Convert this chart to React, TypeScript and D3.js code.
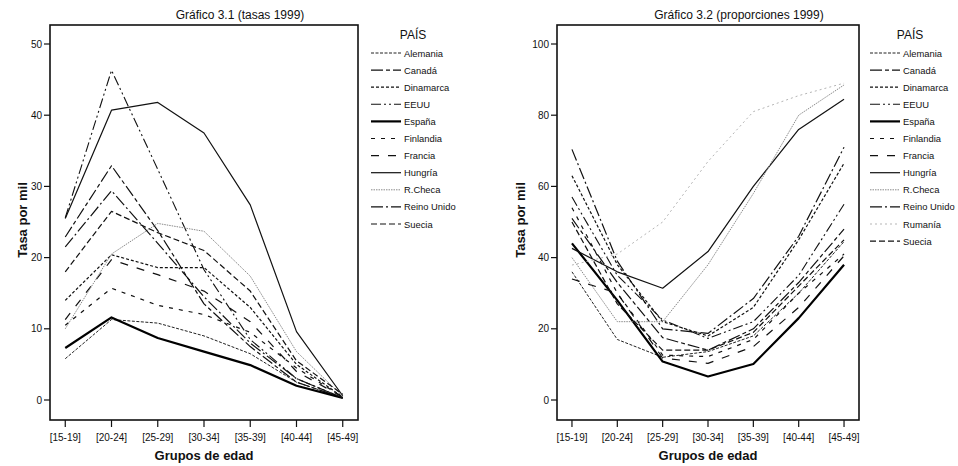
import React from "react";
import * as d3 from "d3";

const ageGroups = ["[15-19]", "[20-24]", "[25-29]", "[30-34]", "[35-39]", "[40-44]", "[45-49]"];

const countriesTasas = ["Alemania", "Canadá", "Dinamarca", "EEUU", "España", "Finlandia", "Francia", "Hungría", "R.Checa", "Reino Unido", "Suecia"];
const countriesProp = ["Alemania", "Canadá", "Dinamarca", "EEUU", "España", "Finlandia", "Francia", "Hungría", "R.Checa", "Reino Unido", "Rumanía", "Suecia"];

const ticksTasas = [0, 10, 20, 30, 40, 50];
const ticksProp = [0, 20, 40, 60, 80, 100];

// Gráfico 3.1 — tasas 1999
const tasasAlemania = [5.8, 11.3, 10.8, 9.0, 6.5, 2.5, 0.3];
const tasasCanada = [22.9, 32.9, 23.8, 13.5, 7.5, 2.5, 0.3];
const tasasDinamarca = [14.0, 20.4, 18.6, 18.6, 13.0, 5.0, 0.4];
const tasasEEUU = [25.6, 46.3, 32.4, 18.3, 8.5, 3.0, 0.3];
const tasasEspana = [7.3, 11.6, 8.7, 6.8, 4.9, 2.0, 0.3];
const tasasFinlandia = [10.5, 15.7, 13.3, 12.0, 9.5, 4.5, 0.4];
const tasasFrancia = [11.3, 19.7, 17.6, 15.3, 11.0, 4.0, 0.4];
const tasasHungria = [25.5, 40.7, 41.8, 37.5, 27.4, 9.6, 0.6];
const tasasRCheca = [10.0, 20.5, 24.8, 23.7, 17.4, 6.8, 0.5];
const tasasReinoUnido = [21.5, 29.4, 22.0, 14.5, 8.0, 3.0, 0.3];
const tasasSuecia = [18.0, 26.5, 23.5, 21.0, 15.3, 5.5, 0.8];

// Gráfico 3.2 — proporciones 1999
const propAlemania = [36.0, 17.0, 12.0, 13.6, 18.0, 30.0, 44.5];
const propCanada = [51.0, 33.0, 17.5, 14.0, 20.0, 33.0, 48.0];
const propDinamarca = [63.0, 38.0, 22.0, 18.0, 26.0, 45.0, 66.5];
const propEEUU = [57.0, 35.0, 22.5, 17.3, 22.0, 35.0, 55.0];
const propEspana = [44.0, 28.0, 10.8, 6.6, 10.1, 23.0, 38.0];
const propFinlandia = [54.0, 30.0, 12.6, 12.2, 17.0, 30.0, 41.0];
const propFrancia = [34.0, 30.0, 11.8, 10.3, 15.0, 26.0, 40.5];
const propHungria = [42.6, 36.0, 31.4, 41.7, 60.0, 76.0, 84.5];
const propRCheca = [40.0, 22.0, 22.0, 38.0, 58.0, 80.0, 88.5];
const propReinoUnido = [70.4, 39.0, 20.0, 18.7, 28.5, 46.0, 71.0];
const propRumania = [37.9, 41.0, 50.0, 67.0, 81.0, 85.5, 89.0];
const propSuecia = [50.0, 27.0, 14.0, 14.0, 19.0, 32.0, 45.0];

const seriesTasas = [tasasAlemania, tasasCanada, tasasDinamarca, tasasEEUU, tasasEspana, tasasFinlandia, tasasFrancia, tasasHungria, tasasRCheca, tasasReinoUnido, tasasSuecia];
const seriesProp = [propAlemania, propCanada, propDinamarca, propEEUU, propEspana, propFinlandia, propFrancia, propHungria, propRCheca, propReinoUnido, propRumania, propSuecia];

type LineStyle = { color: string; width: number; dash: string };
const styleOf: Record<string, LineStyle> = {
  "Alemania": { color: "#222", width: 1, dash: "3,1.5" },
  "Canadá": { color: "#111", width: 1.2, dash: "12,3,4,3" },
  "Dinamarca": { color: "#111", width: 1.2, dash: "3,2" },
  "EEUU": { color: "#111", width: 1.1, dash: "10,3,2,3,2,3" },
  "España": { color: "#000", width: 2.2, dash: "" },
  "Finlandia": { color: "#111", width: 1.2, dash: "4,6" },
  "Francia": { color: "#111", width: 1.2, dash: "8,9" },
  "Hungría": { color: "#111", width: 1.2, dash: "" },
  "R.Checa": { color: "#8a8a8a", width: 1, dash: "1.5,1" },
  "Reino Unido": { color: "#111", width: 1.2, dash: "12,3,2,3" },
  "Rumanía": { color: "#b5b5b5", width: 1, dash: "2,3" },
  "Suecia": { color: "#111", width: 1.2, dash: "6,3" },
};

const FONT = "'Liberation Sans', Arial, sans-serif";

type ChartProps = {
  left: number;
  right: number;
  title: string;
  titleX: number;
  yTicks: number[];
  series: number[][];
  countries: string[];
  legendLineX: number;
  legendTextX: number;
  legendTitleX: number;
  yTitleX: number;
};

function Chart(p: ChartProps) {
  const top = 25;
  const bottom = 420;
  const x = d3.scalePoint<string>().domain(ageGroups).range([p.left, p.right]).padding(0.33);
  const y = d3.scaleLinear().domain([0, p.yTicks[p.yTicks.length - 1]]).range([400, 44]);
  const line = d3
    .line<number>()
    .x((_, i) => x(ageGroups[i]) as number)
    .y((v) => y(v));
  const cx = (p.left + p.right) / 2;
  return (
    <g fontFamily={FONT}>
      <text x={p.titleX} y={19} fontSize={12} textAnchor="middle" fill="#111">
        {p.title}
      </text>
      {p.series.map((s, i) => {
        const st = styleOf[p.countries[i]];
        return (
          <path
            key={p.countries[i]}
            d={line(s) || ""}
            fill="none"
            stroke={st.color}
            strokeWidth={st.width}
            strokeDasharray={st.dash || undefined}
            strokeLinejoin="round"
          />
        );
      })}
      <rect x={p.left} y={top} width={p.right - p.left} height={bottom - top} fill="none" stroke="#111" strokeWidth={1.6} />
      {p.yTicks.map((t) => (
        <g key={t}>
          <line x1={p.left - 6} x2={p.left} y1={y(t)} y2={y(t)} stroke="#111" strokeWidth={1.2} />
          <text x={p.left - 8} y={y(t) + 3.5} fontSize={10} textAnchor="end" fill="#111">
            {t}
          </text>
        </g>
      ))}
      {ageGroups.map((a) => (
        <g key={a}>
          <line x1={x(a)} x2={x(a)} y1={bottom} y2={bottom + 7} stroke="#111" strokeWidth={1.2} />
          <text x={x(a)} y={441} fontSize={10} textAnchor="middle" fill="#111">
            {a}
          </text>
        </g>
      ))}
      <text x={cx} y={460} fontSize={13} fontWeight="bold" textAnchor="middle" fill="#111">
        Grupos de edad
      </text>
      <text
        transform={`translate(${p.yTitleX},220) rotate(-90)`}
        fontSize={13}
        fontWeight="bold"
        textAnchor="middle"
        fill="#111"
      >
        Tasa por mil
      </text>
      <text x={p.legendTitleX} y={39} fontSize={12} textAnchor="middle" fill="#111">
        PAÍS
      </text>
      {p.countries.map((c, i) => {
        const st = styleOf[c];
        const ly = 53 + i * 17.1;
        return (
          <g key={c}>
            <line
              x1={p.legendLineX}
              x2={p.legendTextX - 3}
              y1={ly}
              y2={ly}
              stroke={st.color}
              strokeWidth={st.width}
              strokeDasharray={st.dash || undefined}
            />
            <text x={p.legendTextX} y={ly + 3.5} fontSize={9.4} fill="#111">
              {c}
            </text>
          </g>
        );
      })}
    </g>
  );
}

export default function App() {
  return (
    <svg
      width={958}
      height={466}
      style={{ position: "absolute", left: 0, top: 0, background: "#fff" }}
    >
      <rect width={958} height={466} fill="#fff" />
      <Chart
        left={50}
        right={358}
        title="Gráfico 3.1 (tasas 1999)"
        titleX={240}
        yTicks={ticksTasas}
        series={seriesTasas}
        countries={countriesTasas}
        legendLineX={371}
        legendTextX={404}
        legendTitleX={413}
        yTitleX={27}
      />
      <Chart
        left={557}
        right={859}
        title="Gráfico 3.2 (proporciones 1999)"
        titleX={739}
        yTicks={ticksProp}
        series={seriesProp}
        countries={countriesProp}
        legendLineX={870}
        legendTextX={903}
        legendTitleX={910}
        yTitleX={525}
      />
    </svg>
  );
}
